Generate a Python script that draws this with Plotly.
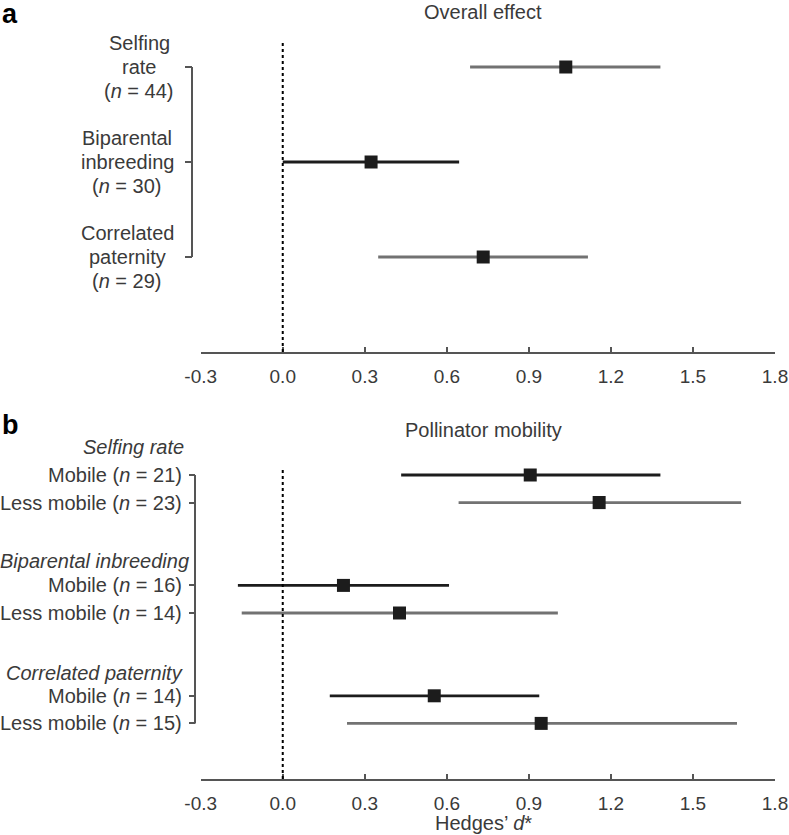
import plotly.graph_objects as go

W, H = 789, 835

# ---------------- data ----------------
overall_labels = [["Selfing", "rate", "(<i>n</i> = 44)"],
                  ["Biparental", "inbreeding", "(<i>n</i> = 30)"],
                  ["Correlated", "paternity", "(<i>n</i> = 29)"]]
overall_d = [1.035, 0.323, 0.733]
overall_lo = [0.685, 0.00, 0.349]
overall_hi = [1.381, 0.645, 1.116]

groups = ["Selfing rate", "Biparental inbreeding", "Correlated paternity"]
mob_labels = ["Mobile (<i>n</i> = 21)", "Less mobile (<i>n</i> = 23)",
              "Mobile (<i>n</i> = 16)", "Less mobile (<i>n</i> = 14)",
              "Mobile (<i>n</i> = 14)", "Less mobile (<i>n</i> = 15)"]
mob_d = [0.905, 1.157, 0.222, 0.427, 0.554, 0.945]
mob_lo = [0.433, 0.643, -0.164, -0.150, 0.172, 0.235]
mob_hi = [1.381, 1.676, 0.608, 1.006, 0.938, 1.661]

x_ticks = [-0.3, 0.0, 0.3, 0.6, 0.9, 1.2, 1.5, 1.8]
x_ticktext = ["-0.3", "0.0", "0.3", "0.6", "0.9", "1.2", "1.5", "1.8"]

# ---------------- styles ----------------
BLACK = "#1c1c1c"
GRAY = "#727272"
AXC = "#555555"
TXT = "#3a3a3a"
FONT = "Liberation Sans, Arial, sans-serif"
FS = 20
TFS = 19
MS = 13
EW = 2.8
overall_colors = [GRAY, BLACK, GRAY]
mob_colors = [BLACK, GRAY] * 3


def X(p):
    return p / W


def Y(p):
    return 1 - p / H


# layout (screen pixels)
A_TOP, A_AX = 40, 352
A_ROWS_PX = [67, 162.5, 257]
B_TOP, B_AX = 468, 779
B_ROW0, B_STEP = 475, 27.6
A_STEP = (A_ROWS_PX[-1] - A_ROWS_PX[0]) / 2

rows_a = [1, 2, 3]
rows_b = [4 * g + s for g in range(3) for s in range(2)]
head_b_px = [447, 561, 673]
head_b_right = [186, 191, 185]

fig = go.Figure()

for i in range(len(overall_d)):
    fig.add_trace(go.Scatter(
        x=[overall_d[i]], y=[rows_a[i]], mode="markers",
        marker=dict(symbol="square", size=MS, color=BLACK),
        error_x=dict(type="data", symmetric=False,
                     array=[overall_hi[i] - overall_d[i]],
                     arrayminus=[overall_d[i] - overall_lo[i]],
                     color=overall_colors[i], thickness=EW, width=0),
        xaxis="x", yaxis="y", showlegend=False, hoverinfo="skip"))

for i in range(len(mob_d)):
    fig.add_trace(go.Scatter(
        x=[mob_d[i]], y=[rows_b[i]], mode="markers",
        marker=dict(symbol="square", size=MS, color=BLACK),
        error_x=dict(type="data", symmetric=False,
                     array=[mob_hi[i] - mob_d[i]],
                     arrayminus=[mob_d[i] - mob_lo[i]],
                     color=mob_colors[i], thickness=EW, width=0),
        xaxis="x2", yaxis="y2", showlegend=False, hoverinfo="skip"))

xdom = [X(200.7), X(775)]
xaxis_common = dict(range=[-0.3, 1.8], tickvals=x_ticks, ticktext=x_ticktext,
                    showgrid=False, zeroline=False, showline=True,
                    linecolor=AXC, linewidth=2, ticks="inside", ticklen=5,
                    tickwidth=2, tickcolor=AXC, ticklabelstandoff=6,
                    tickfont=dict(family=FONT, size=TFS, color=TXT),
                    domain=xdom, fixedrange=True, automargin=False)

ya_range = [1 + (A_AX - A_ROWS_PX[0]) / A_STEP, 1 - (A_ROWS_PX[0] - A_TOP) / A_STEP]
yb_range = [(B_AX - B_ROW0) / B_STEP, (B_TOP - B_ROW0) / B_STEP]

fig.update_layout(
    width=W, height=H, autosize=False,
    margin=dict(l=0, r=0, t=0, b=0, pad=0, autoexpand=False),
    paper_bgcolor="white", plot_bgcolor="white",
    xaxis=dict(anchor="y", **xaxis_common),
    xaxis2=dict(anchor="y2", **xaxis_common),
    yaxis=dict(domain=[Y(A_AX), Y(A_TOP)], range=ya_range,
               anchor="free", position=X(192), automargin=False,
               tickvals=rows_a, ticks="outside", ticklen=7, tickwidth=2,
               tickcolor=AXC, showticklabels=False, showgrid=False,
               zeroline=False, showline=False, fixedrange=True),
    yaxis2=dict(domain=[Y(B_AX), Y(B_TOP)], range=yb_range,
                anchor="free", position=X(195), automargin=False,
                tickvals=rows_b, ticks="outside", ticklen=6, tickwidth=2,
                tickcolor=AXC, showticklabels=False, showgrid=False,
                zeroline=False, showline=False, fixedrange=True),
    font=dict(family=FONT, size=FS, color=TXT),
)

shapes = []
for xr, yr in (("x", "y domain"), ("x2", "y2 domain")):
    shapes.append(dict(type="line", xref=xr, yref=yr, x0=0, x1=0, y0=0, y1=1,
                       line=dict(color="black", width=2, dash="dot")))
shapes.append(dict(type="line", xref="paper", yref="y", x0=X(192), x1=X(192),
                   y0=rows_a[0], y1=rows_a[-1], line=dict(color=AXC, width=2)))
shapes.append(dict(type="line", xref="paper", yref="y2", x0=X(195), x1=X(195),
                   y0=rows_b[0], y1=rows_b[-1], line=dict(color=AXC, width=2)))
fig.update_layout(shapes=shapes)

ann = []
block_cx = [139, 127, 127]
for i, lines in enumerate(overall_labels):
    for k, line in enumerate(lines):
        ann.append(dict(text=line, xref="paper", yref="y", x=X(block_cx[i]), y=rows_a[i],
                        yshift=-(k - 1) * 24, xanchor="center", yanchor="middle",
                        showarrow=False, font=dict(size=FS, color=TXT)))
for i, lab in enumerate(mob_labels):
    ann.append(dict(text=lab, xref="paper", yref="y2", x=X(184), y=rows_b[i],
                    xanchor="right", yanchor="middle", showarrow=False,
                    font=dict(size=FS, color=TXT)))
for g, name in enumerate(groups):
    ann.append(dict(text="<i>" + name + "</i>", xref="paper", yref="paper",
                    x=X(head_b_right[g]), y=Y(head_b_px[g]), xanchor="right",
                    yanchor="middle", showarrow=False, font=dict(size=FS, color=TXT)))
ann.append(dict(text="Overall effect", xref="paper", yref="paper", x=X(483), y=Y(12),
                xanchor="center", yanchor="middle", showarrow=False,
                font=dict(size=FS, color=TXT)))
ann.append(dict(text="Pollinator mobility", xref="paper", yref="paper", x=X(484), y=Y(430),
                xanchor="center", yanchor="middle", showarrow=False,
                font=dict(size=FS, color=TXT)))
ann.append(dict(text="Hedges\u2019 <i>d</i>*", xref="paper", yref="paper", x=X(484), y=Y(823),
                xanchor="center", yanchor="middle", showarrow=False,
                font=dict(size=FS, color=TXT)))
ann.append(dict(text="<b>a</b>", xref="paper", yref="paper", x=X(0), y=Y(14),
                xanchor="left", yanchor="middle", showarrow=False,
                font=dict(size=27, color="black")))
ann.append(dict(text="<b>b</b>", xref="paper", yref="paper", x=X(0), y=Y(425),
                xanchor="left", yanchor="middle", showarrow=False,
                font=dict(size=27, color="black")))
fig.update_layout(annotations=ann)

fig.write_html("out.html", config={"displayModeBar": False, "staticPlot": True},
               post_script="document.body.style.margin='0px';")
